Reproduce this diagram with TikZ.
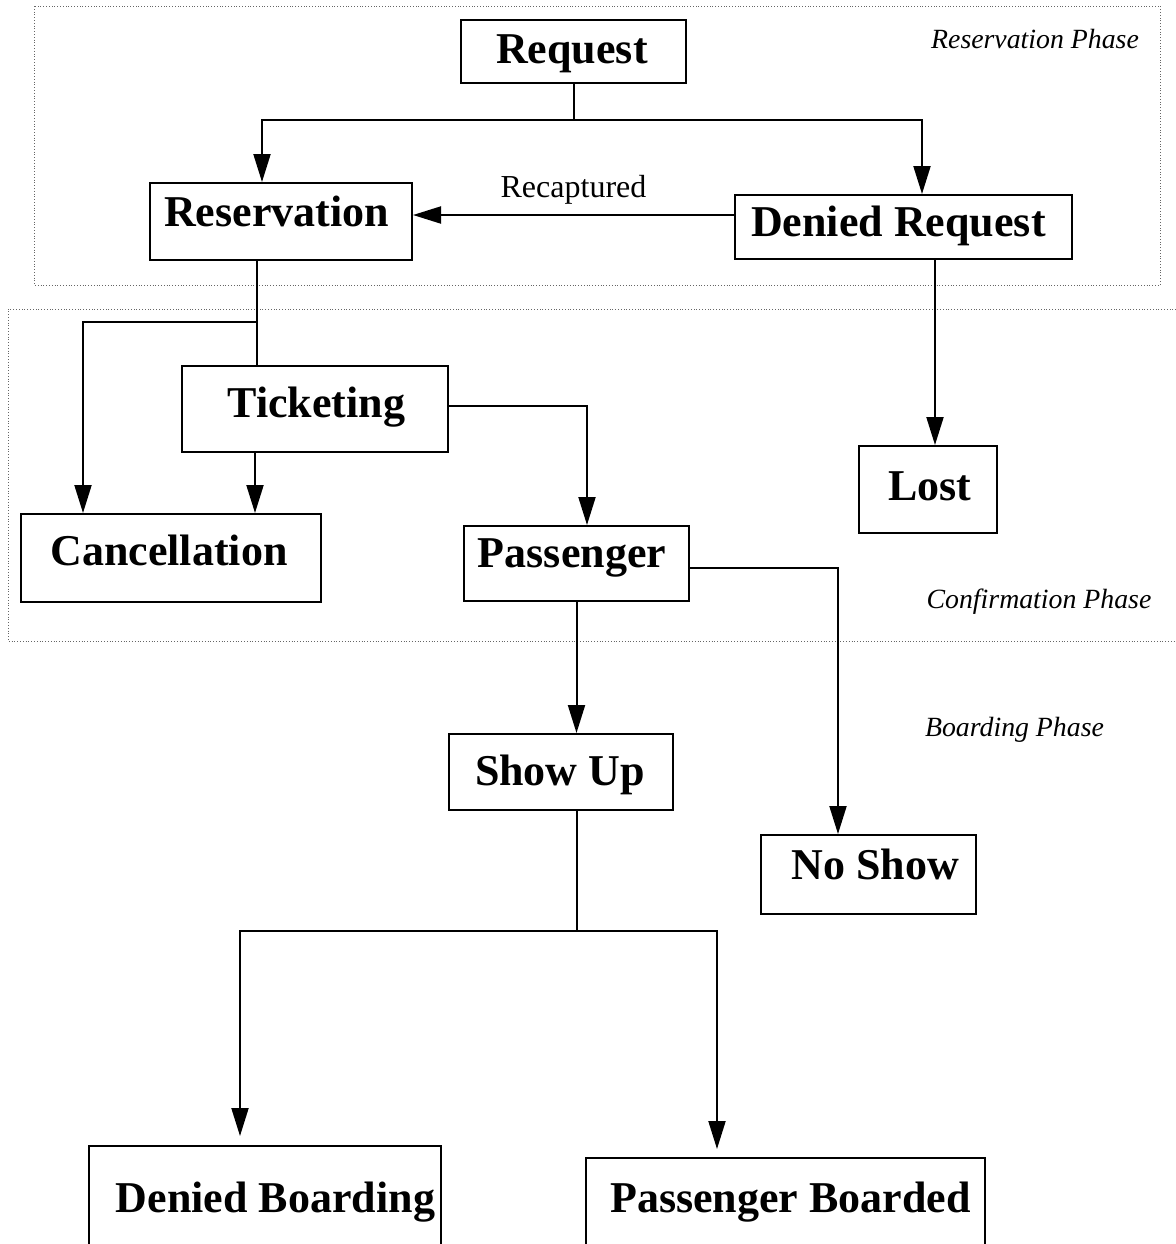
\documentclass[tikz,border=0pt]{standalone}
\usepackage{fontspec}
\setmainfont{Liberation Serif}
\usetikzlibrary{arrows.meta}

\tikzset{
    stage/.style={draw, line width=1pt, inner sep=0pt},
    caption/.style={anchor=base, inner sep=0pt, font=\fontsize{22}{26}\selectfont\bfseries},
    phasename/.style={anchor=base, inner sep=0pt, font=\fontsize{13.9}{16}\selectfont\itshape},
    flow/.style={line width=1pt, -{Triangle[length=14pt,width=8.5pt]}},
    link/.style={line width=1pt},
    phase/.style={densely dotted, line width=0.4pt, black!60}
}

\begin{document}
\begin{tikzpicture}[x=0.5pt, y=-0.5pt]
    \useasboundingbox (0,0) rectangle (1176,1244);
    \clip (0,0) rectangle (1176,1244);
    % phase frames
    \draw[phase] (34,6) rectangle (1160,285);
    \draw[phase] (1176,309) -- (8,309) -- (8,641) -- (1176,641);
    \node[phasename] (resphase) at (1035,48) {Reservation Phase};
    \node[phasename] (conphase) at (1039,608) {Confirmation Phase};
    \node[phasename] (boaphase) at (1014.5,736) {Boarding Phase};
    % boxes
    \node[stage, minimum width=112.5pt, minimum height=31.5pt] (request) at (573.5,51.5) {};
    \node[stage, minimum width=131pt, minimum height=38.5pt] (resv) at (281,221.5) {};
    \node[stage, minimum width=168.5pt, minimum height=32pt] (denreq) at (903.5,227) {};
    \node[stage, minimum width=133pt, minimum height=43pt] (ticket) at (315,409) {};
    \node[stage, minimum width=150pt, minimum height=44pt] (cancel) at (171,558) {};
    \node[stage, minimum width=112.5pt, minimum height=37.5pt] (pass) at (576.5,563.5) {};
    \node[stage, minimum width=69pt, minimum height=43.5pt] (lost) at (928,489.5) {};
    \node[stage, minimum width=112pt, minimum height=38pt] (showup) at (561,772) {};
    \node[stage, minimum width=107.5pt, minimum height=39.5pt] (noshow) at (868.5,874.5) {};
    \node[stage, minimum width=176pt, minimum height=72pt] (denboard) at (265,1218) {};
    \node[stage, minimum width=199.5pt, minimum height=66pt] (passboard) at (785.5,1224) {};
    % texts
    \node[caption] (request-t) at (572,63) {Request};
    \node[caption] (resv-t) at (276.5,226.5) {Reservation};
    \node[caption] (denreq-t) at (898.5,236.5) {Denied Request};
    \node[caption] (ticket-t) at (316.5,417) {Ticketing};
    \node[caption] (cancel-t) at (169,565.5) {Cancellation};
    \node[caption] (pass-t) at (572,567.5) {Passenger};
    \node[caption] (lost-t) at (930,500.5) {Lost};
    \node[caption] (showup-t) at (560,785.5) {Show Up};
    \node[caption] (noshow-t) at (875.5,879.5) {No Show};
    \node[caption] (denboard-t) at (275.5,1212) {Denied Boarding};
    \node[caption] (passboard-t) at (790.5,1212) {Passenger Boarded};
    % connectors
    \coordinate (split1) at (573.5,120);
    \coordinate (split2) at (257,322);
    \coordinate (split3) at (577,931);
    \draw[link] (request.south) -- (split1);
    \draw[flow] (split1) -| ([xshift=-9.5pt]resv.north);
    \draw[flow] (split1) -| ([xshift=9.25pt]denreq.north);
    \draw[flow] ([yshift=6pt]denreq.west) -- ([yshift=6pt]denreq.west -| resv.east);
    \node[inner sep=0pt, anchor=base, font=\fontsize{16}{19}\selectfont] (recap) at (573.5,197) {Recaptured};
    \draw[link] ([xshift=-12pt]resv.south) -- ([xshift=-29pt]ticket.north);
    \draw[flow] (split2) -| ([xshift=-44pt]cancel.north);
    \draw[flow] ([xshift=-30pt]ticket.south) -- ([xshift=42pt]cancel.north);
    \draw[flow] ([yshift=1.5pt]ticket.east) -| ([xshift=5.25pt]pass.north);
    \draw[flow] ([xshift=15.75pt]denreq.south) -- ([xshift=15.75pt]denreq.south |- lost.north);
    \draw[flow] (pass.south) -- (pass.south |- showup.north);
    \draw[flow] ([yshift=-2.25pt]pass.east) -| ([xshift=-15.25pt]noshow.north);
    \draw[link] ([xshift=8pt]showup.south) -- (split3);
    \draw[flow, shorten >=4.5pt] (split3) -| ([xshift=-12.5pt]denboard.north);
    \draw[flow, shorten >=4pt] (split3) -| ([xshift=-34.25pt]passboard.north);
\end{tikzpicture}
\end{document}
